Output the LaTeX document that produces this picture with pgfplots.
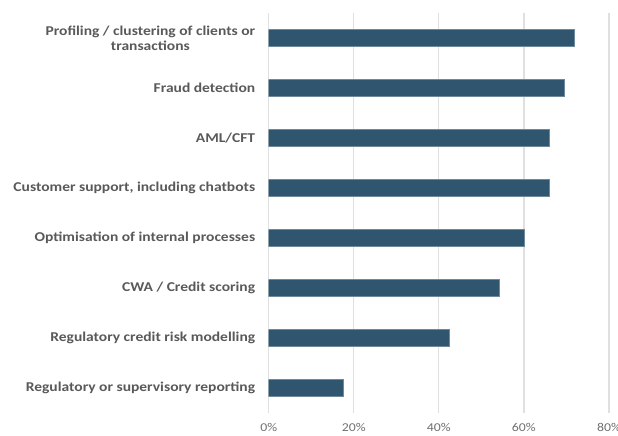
\documentclass[border=0pt]{standalone}
\usepackage{pgfplots}
\pgfplotsset{compat=1.18}
\usepackage{fontspec}
\setmainfont{Carlito}[FakeStretch=1.15]
\definecolor{barblue}{HTML}{30566F}
\definecolor{labelgray}{HTML}{595959}
\definecolor{tickgray}{HTML}{6F6F6F}
\definecolor{gridgray}{HTML}{E0E0E0}

\begin{document}
\begin{tikzpicture}
\useasboundingbox (-268.7bp,-23bp) rectangle (349.3bp,413bp);
\begin{axis}[
    at={(0,0)}, anchor=south west,
    scale only axis,
    width=340.3bp, height=400bp,
    xbar, bar width=17bp,
    xmin=0, xmax=80,
    ymin=-0.5, ymax=7.5,
    xtick={0,20,40,60,80},
    xticklabel={\pgfmathprintnumber{\tick}\%},
    /pgf/number format/assume math mode=true,
    ytick={0,...,7},
    yticklabels={
        Regulatory or supervisory reporting,
        Regulatory credit risk modelling,
        CWA / Credit scoring,
        Optimisation of internal processes,
        {Customer support, including chatbots},
        AML/CFT,
        Fraud detection,
        Profiling / clustering of clients or\\transactions},
    yticklabel style={font=\fontsize{13.5bp}{15bp}\selectfont\bfseries, text=labelgray, align=center},
    xticklabel style={font=\fontsize{12bp}{14bp}\selectfont, text=tickgray},
    xmajorgrids, grid style={gridgray, line width=1.2bp},
    axis line style={draw=none},
    major tick length=0pt,
    tick style={draw=none},
    ytick pos=left, xtick pos=bottom,
    yticklabel shift=10bp,
    xticklabel shift=7bp,
]
\addplot[fill=barblue, draw=barblue!70!white] coordinates {
  (17.6,0) (42.4,1) (54.1,2) (60.0,3) (66.0,4) (66.0,5) (69.5,6) (71.8,7)
};
\end{axis}
\end{tikzpicture}
\end{document}
